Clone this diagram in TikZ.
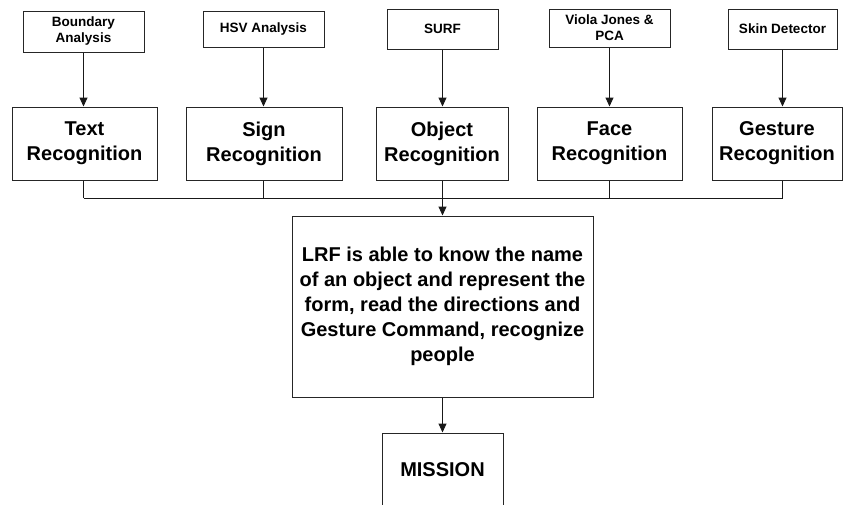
\documentclass[tikz,border=0pt]{standalone}
\usepackage{fontspec}
\setmainfont{Liberation Sans}
\usetikzlibrary{arrows.meta}
\begin{document}
\begin{tikzpicture}[x=1pt,y=-1pt,
  line width=1pt,
  boxbase/.style={draw=black!85, fill=white, align=center, inner sep=2pt, font=\bfseries},
  smallbox/.style={boxbase, font=\bfseries\fontsize{13.5}{16}\selectfont},
  bigbox/.style={boxbase, minimum height=73pt, font=\bfseries\fontsize{20}{25}\selectfont},
  conn/.style={draw=black!90},
  arr/.style={conn, -{Triangle[length=9pt,width=8pt]}}
]
\useasboundingbox (0,0) rectangle (843,504);
\clip (0,0) rectangle (843,504);

% top method boxes
\node[smallbox, minimum width=121pt, minimum height=41pt] (ba) at (83.5,31.5) {Boundary\\Analysis};
\node[smallbox, minimum width=121pt, minimum height=36pt] (hsv) at (263.5,29) {HSV Analysis};
\node[smallbox, minimum width=111pt, minimum height=40pt] (surf) at (442.5,29) {SURF};
\node[smallbox, minimum width=121pt, minimum height=38pt] (vj) at (609.5,28) {Viola Jones \&\\PCA};
\node[smallbox, minimum width=109pt, minimum height=40pt] (skin) at (782.5,29) {Skin Detector};

% recognition boxes
\node[bigbox, minimum width=145pt] (text) at (84.5,143.5) {Text\\Recognition};
\node[bigbox, minimum width=156pt] (sign) at (264,143.5) {Sign\\Recognition};
\node[bigbox, minimum width=132pt] (obj) at (442,143.5) {Object\\Recognition};
\node[bigbox, minimum width=145pt] (face) at (609.5,143.5) {Face\\Recognition};
\node[bigbox, minimum width=130pt] (gest) at (777,143.5) {Gesture\\Recognition};

% result and mission
\node[boxbase, minimum width=301pt, minimum height=181pt, font=\bfseries\fontsize{20}{25}\selectfont] (lrf) at (442.5,306.5)
  {LRF is able to know the name\\of an object and represent the\\form, read the directions and\\Gesture Command, recognize\\people};
\node[boxbase, minimum width=121pt, minimum height=74pt, font=\bfseries\fontsize{20}{25}\selectfont] (mission) at (442.5,470) {MISSION};

% arrows from methods to recognition
\draw[arr] (ba.south) -- (ba.south |- text.north);
\draw[arr] (hsv.south) -- (hsv.south |- sign.north);
\draw[arr] (surf.south) -- (surf.south |- obj.north);
\draw[arr] (vj.south) -- (vj.south |- face.north);
\draw[arr] (skin.south) -- (skin.south |- gest.north);

% bus
\coordinate (busL) at (84,198);
\coordinate (busR) at (783,198);
\coordinate (busM) at (442,198);
\draw[conn] (ba.south |- text.south) -- (ba.south |- busL);
\draw[conn] (hsv.south |- sign.south) -- (hsv.south |- busL);
\draw[conn] (surf.south |- obj.south) -- (surf.south |- busL);
\draw[conn] (vj.south |- face.south) -- (vj.south |- busL);
\draw[conn] (skin.south |- gest.south) -- (skin.south |- busL);
\draw[conn] (ba.south |- busL) -- (skin.south |- busR);
\draw[arr] (surf.south |- busM) -- (surf.south |- lrf.north);

\draw[arr] (lrf.south) -- (mission.north);
\end{tikzpicture}
\end{document}
